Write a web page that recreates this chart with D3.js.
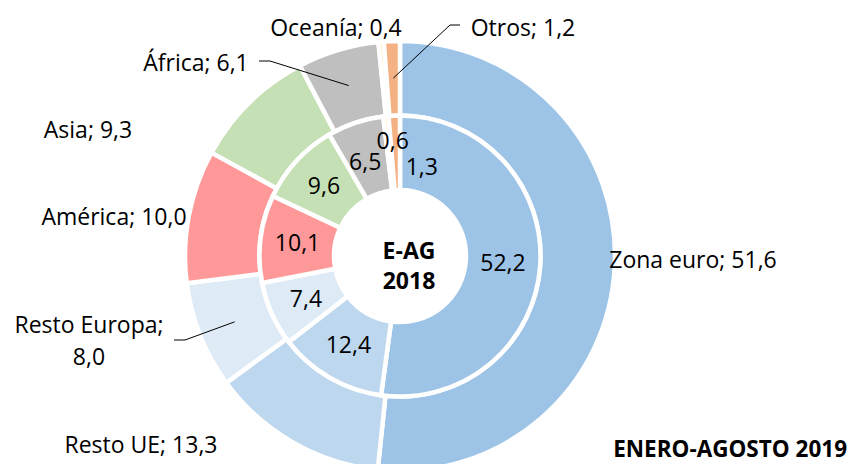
<!DOCTYPE html>
<html>
<head>
<meta charset="utf-8">
<script src="https://cdn.jsdelivr.net/npm/d3@7"></script>
<style>
  body { margin: 0; background: #fff; }
  svg text { font-family: "Open Sans", "Noto Sans", sans-serif; fill: #000; }
</style>
</head>
<body>
<svg id="chart" width="854" height="464"></svg>
<script>
// regions, outer ring = enero-agosto 2019, inner ring = E-AG 2018
const regions = ["Zona euro", "Resto UE", "Resto Europa", "América", "Asia", "África", "Oceanía", "Otros"];
const values2019 = [51.6, 13.3, 8.0, 10.0, 9.3, 6.1, 0.4, 1.2];
const values2018 = [52.2, 12.4, 7.4, 10.1, 9.6, 6.5, 0.6, 1.3];
const colors = ["#9dc3e6", "#bdd7ee", "#deebf7", "#ff9999", "#c5e0b4", "#bfbfbf", "#ffe699", "#f4b183"];

const fmt = v => d3.format(".1f")(v).replace(".", ",");

const svg = d3.select("#chart");
const cx = 400, cy = 256;
const fs = "23px";

const pie = d3.pie().sort(null).value(d => d);
const innerArc = d3.arc().innerRadius(66).outerRadius(140.5);
const outerArc = d3.arc().innerRadius(140.5).outerRadius(215);
const outerMid = d3.arc().innerRadius(178).outerRadius(178);

const g = svg.append("g").attr("transform", `translate(${cx},${cy})`);

const outerData = pie(values2019);
const innerData = pie(values2018);

g.append("g").selectAll("path")
  .data(outerData)
  .join("path")
  .attr("d", outerArc)
  .attr("fill", (d, i) => colors[i])
  .attr("stroke", "#fff")
  .attr("stroke-width", 4.5);

g.append("g").selectAll("path")
  .data(innerData)
  .join("path")
  .attr("d", innerArc)
  .attr("fill", (d, i) => colors[i])
  .attr("stroke", "#fff")
  .attr("stroke-width", 4.5);

// inner ring labels (small slices nudged like Excel does)
const innerNudge = { 5: [-2, 4], 6: [3, -12], 7: [26, 14] };
g.append("g").selectAll("text")
  .data(innerData)
  .join("text")
  .attr("transform", (d, i) => {
    const [x, y] = innerArc.centroid(d);
    const [dx, dy] = innerNudge[i] || [0, 0];
    return `translate(${x + dx},${y + dy})`;
  })
  .attr("text-anchor", "middle")
  .attr("dy", "0.35em")
  .style("font-size", fs)
  .text(d => fmt(d.data));

// centre title
const title = g.append("text")
  .attr("text-anchor", "middle")
  .style("font-size", "23px")
  .style("font-weight", "bold");
title.append("tspan").attr("x", 9).attr("y", -5).attr("dy", "0.35em").text("E-AG");
title.append("tspan").attr("x", 9).attr("y", 25).attr("dy", "0.35em").text("2018");

// outer labels: where the label text sits (centre), and leader line if any
const outerLabelPos = {
  "Zona euro": { x: 693, y: 260 },
  "Resto UE": { x: 141, y: 445 },
  "Resto Europa": { x: 89, y: 325, lines: 2, leader: "left", lx: 174, ly: 340 },
  "América": { x: 114, y: 217 },
  "Asia": { x: 88, y: 130 },
  "África": { x: 196, y: 63, leader: "left", lx: 259, ly: 61 },
  "Oceanía": { x: 336, y: 28 },
  "Otros": { x: 523, y: 28, leader: "right", lx: 460, ly: 25 }
};

const labelG = svg.append("g");
outerData.forEach((d, i) => {
  const name = regions[i];
  const p = outerLabelPos[name];
  const t = labelG.append("text")
    .attr("text-anchor", "middle")
    .style("font-size", fs);
  if (p.lines === 2) {
    t.append("tspan").attr("x", p.x).attr("y", p.y).attr("dy", "0.35em").text(name + ";");
    t.append("tspan").attr("x", p.x).attr("y", p.y + 32).attr("dy", "0.35em").text(fmt(d.data));
  } else {
    t.attr("x", p.x).attr("y", p.y).attr("dy", "0.35em").text(`${name}; ${fmt(d.data)}`);
  }
  if (p.leader) {
    const [mx, my] = outerMid.centroid(d);
    const ex = mx + cx, ey = my + cy;
    const kx = p.leader === "left" ? p.lx + 11 : p.lx - 10;
    labelG.append("path")
      .attr("d", d3.line()([[p.lx, p.ly], [kx, p.ly], [ex, ey]]))
      .attr("fill", "none")
      .attr("stroke", "#000")
      .attr("stroke-width", 1);
  }
});

svg.append("text")
  .attr("x", 847)
  .attr("y", 449)
  .attr("dy", "0.35em")
  .attr("text-anchor", "end")
  .style("font-size", "22.5px")
  .style("font-weight", "bold")
  .text("ENERO-AGOSTO 2019");
</script>
</body>
</html>
